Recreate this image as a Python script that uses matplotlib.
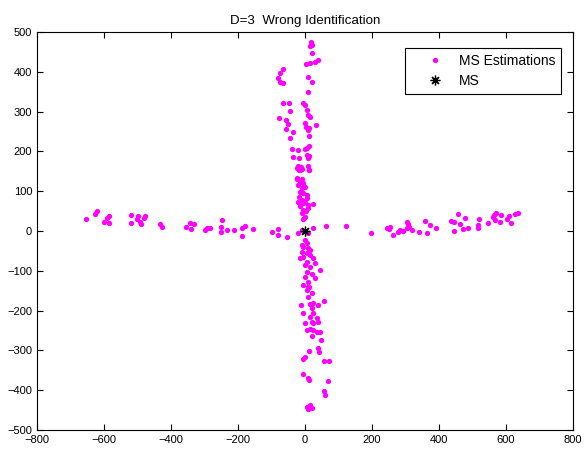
import matplotlib
matplotlib.use("Agg")
import matplotlib.pyplot as plt
import numpy as np

plt.rcParams['font.family'] = ['Liberation Sans', 'DejaVu Sans']

# MS estimations, horizontal (negative x) branch
est_x_left = [-654, -622, -626, -600, -592, -586, -584, -520, -520, -499, -502, -492, -489,
              -477, -480, -433, -426, -355, -342, -330, -341, -298, -292, -284, -249, -252,
              -252, -232, -211, -187, -178, -187, -156, -99, -81, -81, -53]
est_y_left = [29, 50, 42, 22, 32, 38, 19, 40, 19, 38, 29, 23, 17,
              38, 32, 17, 11, 11, 21, 17, 4, 2, 7, 8, 27, 11,
              -3, 3, 3, 8, 13, -13, 6, -2, 6, -10, -16]

# horizontal (positive x) branch
est_x_right = [23, 63, 124, 197, 246, 254, 250, 264, 279, 284, 293, 305, 308, 304, 310, 321,
               340, 358, 365, 374, 391, 437, 445, 456, 463, 478, 446, 472, 488, 518, 518,
               520, 547, 564, 569, 560, 567, 582, 584, 602, 610, 614, 627, 636]
est_y_right = [8, 13, 13, -4, 8, 11, 5, -10, -2, 3, 1, 23, 17, 8, 11, 3,
               -3, 24, -5, 14, 8, 24, 22, 43, 18, 33, 0, 5, 8, 14, 8,
               29, 19, 39, 44, 36, 27, 22, 39, 31, 38, 19, 42, 44]

# vertical (positive y) branch
est_x_up = [17, 20, 15, 20, 40, 30, 15, 2, -65, -73, -80, -75, -67, 8, 20, 8, -65, -49, -7, 0,
            -45, 5, 10, 15, -77, -58, -50, 33, 3, 8, 13, 0, -58, -37, 13, -45, 13, 5, 0,
            -40, -20, 5, 13, 10, -37, -18, -20, -13, -17, -23, -10, 8, 13, -25, -10,
            -15, 13, -25, -15, -5, -20, -10, 0, -15, -5, 5, -17, -10, 0, -5, 10, -15, -7,
            3, -10, 0, -5, 23, 10, 5, -20, -22, -10, 10]
est_y_up = [476, 467, 466, 448, 430, 424, 423, 419, 408, 396, 384, 375, 371, 388, 374, 349, 322, 322, 322, 317,
            302, 304, 292, 286, 285, 279, 269, 266, 262, 254, 258, 271, 256, 248, 239, 233, 214, 208, 205,
            206, 204, 191, 188, 184, 185, 184, 163, 162, 153, 158, 155, 163, 153, 132, 130,
            152, 152, 130, 124, 120, 116, 107, 111, 99, 95, 90, 86, 78, 74, 70, 65, 62, 53,
            49, 45, 36, 29, 67, 57, 82, 74, -4, 2, -4]

# vertical (negative y) branch
est_x_down = [0, 5, -5, 10, -10, 5, 15, -5, 25, -15, 5, 30, 0, 15, 45, 5, 20, 0, 30, 10, -7, 10,
              15, -10, 13, 5, 20, 10, -12, 15, 25, 40, 58, 20, -7, 25, 15, 35, 0, 20, 25, 40,
              5, 15, 25, 35, 45, 22, 48, 40, 43, 13, 0, -5, 57, 73, -5, 10, 13, 70, 57, 60,
              5, 15, 20, 10]
est_y_down = [-23, -29, -40, -43, -52, -56, -60, -66, -69, -69, -77, -80, -86, -90, -97, -102, -107, -115, -119, -127, -136, -142,
              -48, -35, -140, -148, -156, -165, -186, -184, -182, -186, -176, -194, -207, -207, -215, -219, -232, -228, -232, -228,
              -250, -247, -249, -253, -255, -263, -274, -295, -303, -302, -317, -321, -326, -326, -360, -370, -374, -378, -403, -411,
              -441, -437, -445, -447]

ms_x = [0]
ms_y = [0]

est_x = est_x_left + est_x_right + est_x_up + est_x_down
est_y = est_y_left + est_y_right + est_y_up + est_y_down

fig = plt.figure(figsize=(5.87, 4.51), dpi=100)
ax = fig.add_axes([0.063, 0.0466, 0.913, 0.8825])

ax.plot(est_x, est_y, linestyle='none', marker='o', markersize=3.8,
        markeredgewidth=0, color='#ff00ff', label='MS Estimations')
ax.plot(ms_x, ms_y, linestyle='none', marker=(8, 2, 0), markersize=7,
        markeredgewidth=0.9, color='black', label='MS')

ax.set_xlim(-800, 800)
ax.set_ylim(-500, 500)
ax.set_xticks(np.arange(-800, 801, 200))
ax.set_yticks(np.arange(-500, 501, 100))
ax.tick_params(direction='in', top=True, right=True, labelsize=8, length=4, width=0.8)
for s in ax.spines.values():
    s.set_linewidth(0.8)

ax.set_title('D=3  Wrong Identification', fontsize=9.6, pad=6)
leg = ax.legend(loc='upper right', bbox_to_anchor=(0.9776, 0.959), borderaxespad=0,
                fontsize=10, fancybox=False, framealpha=1, edgecolor='black',
                borderpad=0.4, handlelength=3.5, handletextpad=0.0, labelspacing=0.45)
leg.get_frame().set_linewidth(0.8)

fig.savefig('out.png', dpi=100)
